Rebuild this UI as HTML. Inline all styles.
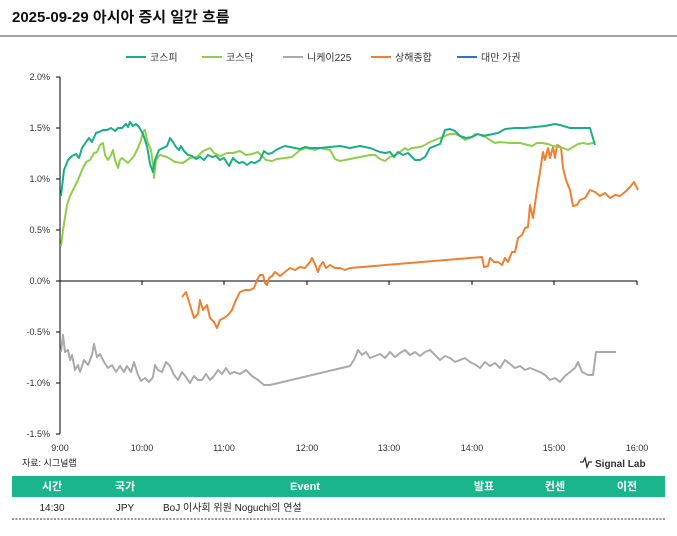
<!DOCTYPE html>
<html><head><meta charset="utf-8"><style>
body{margin:0;background:#fff;width:677px;height:531px;overflow:hidden;font-family:"Liberation Sans","Noto Sans CJK KR",sans-serif}
</style></head><body>
<svg width="677" height="531" xmlns="http://www.w3.org/2000/svg" font-family="Liberation Sans, Noto Sans CJK KR, sans-serif">
<text x="12" y="22" font-size="15" font-weight="bold" fill="#111">2025-09-29 아시아 증시 일간 흐름</text>
<line x1="0" y1="36" x2="677" y2="36" stroke="#444" stroke-width="1"/>
<g font-size="10" fill="#333">
<line x1="126" y1="57" x2="146" y2="57" stroke="#1aae88" stroke-width="2"/><text x="150" y="61">코스피</text>
<line x1="202" y1="57" x2="222" y2="57" stroke="#8ecf4a" stroke-width="2"/><text x="226" y="61">코스닥</text>
<line x1="283" y1="57" x2="303" y2="57" stroke="#aaaaaa" stroke-width="2"/><text x="307" y="61">니케이225</text>
<line x1="371" y1="57" x2="391" y2="57" stroke="#f08030" stroke-width="2"/><text x="395" y="61">상해종합</text>
<line x1="457" y1="57" x2="477" y2="57" stroke="#2e75c8" stroke-width="2"/><text x="481" y="61">대만 가권</text>
</g>
<g stroke="#000" stroke-width="1">
<line x1="60" y1="77" x2="60" y2="434"/>
<line x1="56" y1="77" x2="60" y2="77"/><line x1="56" y1="128" x2="60" y2="128"/><line x1="56" y1="179" x2="60" y2="179"/><line x1="56" y1="230" x2="60" y2="230"/><line x1="56" y1="281" x2="60" y2="281"/><line x1="56" y1="332" x2="60" y2="332"/><line x1="56" y1="383" x2="60" y2="383"/><line x1="56" y1="434" x2="60" y2="434"/>
<line x1="60" y1="281" x2="637" y2="281"/>
<line x1="142" y1="281" x2="142" y2="285"/><line x1="224" y1="281" x2="224" y2="285"/><line x1="307" y1="281" x2="307" y2="285"/><line x1="389" y1="281" x2="389" y2="285"/><line x1="472" y1="281" x2="472" y2="285"/><line x1="554" y1="281" x2="554" y2="285"/><line x1="637" y1="281" x2="637" y2="285"/>
</g>
<g font-size="9" fill="#333" text-anchor="end">
<text x="50" y="80">2.0%</text><text x="50" y="131">1.5%</text><text x="50" y="182">1.0%</text><text x="50" y="233">0.5%</text><text x="50" y="284">0.0%</text><text x="50" y="335">-0.5%</text><text x="50" y="386">-1.0%</text><text x="50" y="437">-1.5%</text>
</g>
<g font-size="9" fill="#333" text-anchor="middle">
<text x="60" y="451">9:00</text><text x="142" y="451">10:00</text><text x="224" y="451">11:00</text><text x="307" y="451">12:00</text><text x="389" y="451">13:00</text><text x="472" y="451">14:00</text><text x="554" y="451">15:00</text><text x="637" y="451">16:00</text>
</g>
<g fill="none" stroke-width="2" stroke-linejoin="round">
<polyline stroke="#aaaaaa" points="61,352 63,335 65,352 68,350 70,360 72,355 75,370 78,365 80,372 84,360 88,365 92,355 94,344 97,357 100,354 104,362 108,368 112,365 116,372 120,366 124,372 127,366 131,372 134,362 138,375 141,381 145,378 149,382 153,377 155,365 158,370 162,372 166,362 170,366 174,375 178,380 182,372 186,377 190,383 194,376 198,380 202,380 206,374 210,380 214,376 218,370 222,374 226,368 230,374 234,372 240,374 246,370 252,376 258,380 264,385 270,385 350,366 355,358 358,350 362,355 366,352 370,358 375,356 380,354 385,358 390,352 395,357 400,353 405,350 410,355 415,352 420,356 425,352 430,350 435,355 440,360 445,356 450,358 455,362 460,360 465,358 470,362 476,365 480,368 485,362 490,366 495,363 500,368 505,360 510,364 515,368 520,366 525,370 530,368 535,370 540,372 545,375 550,380 555,378 560,382 565,376 570,372 575,368 578,362 582,372 588,375 593,375 596,352 616,352"/>
<polyline stroke="#f08030" points="182,297 186,292 190,305 194,318 198,314 200,300 203,310 207,305 210,318 214,322 217,328 220,320 224,318 228,315 232,310 235,302 240,292 245,290 250,290 254,288 257,280 260,275 263,275 265,283 267,285 269,278 272,276 275,272 280,276 285,272 290,268 295,270 300,267 305,268 310,262 312,258 315,264 318,272 320,266 323,262 326,268 330,265 335,268 340,268 345,270 350,268 482,257 484,267 488,266 490,258 494,262 498,262 502,265 505,258 508,262 512,252 515,252 518,238 522,235 525,228 528,227 530,205 533,218 537,190 540,172 543,152 545,160 548,148 550,158 553,147 555,158 557,145 561,147 563,168 566,180 570,190 573,206 577,205 580,200 585,198 590,190 595,192 600,196 605,193 610,198 615,195 620,196 625,192 630,187 634,182 638,190"/>
<polyline stroke="#8ecf4a" points="61,246 63,230 67,205 70,196 74,188 78,180 82,170 86,162 90,160 94,153 97,152 100,145 103,143 105,155 108,160 111,155 113,150 115,160 118,168 120,160 122,158 128,163 134,156 138,148 141,140 143,132 145,130 147,140 151,150 153,165 154,178 156,160 160,155 167,157 175,162 183,163 190,158 197,157 203,151 210,148 214,153 220,156 227,153 233,153 240,151 246,155 252,154 258,152 266,160 272,161 277,159 285,158 292,157 300,150 306,148 315,150 320,148 330,150 335,159 340,161 345,160 350,159 355,158 365,156 370,155 375,155 380,159 385,161 390,157 395,155 400,152 405,148 408,150 412,148 420,147 425,145 430,142 435,140 440,138 445,136 450,134 455,134 460,136 465,140 470,138 475,134 483,135 490,140 495,143 500,142 510,143 520,143 528,145 532,146 537,143 542,143 548,144 553,146 558,147 563,148 568,150 573,147 578,144 583,143 588,144 593,143 595,141"/>
<polyline stroke="#1aae88" points="61,196 64,170 68,160 72,156 76,154 79,158 82,148 86,142 89,138 92,142 96,133 99,132 103,130 107,130 111,128 115,131 118,128 122,128 126,124 128,127 130,122 133,126 136,124 139,127 143,134 147,146 150,164 153,172 155,160 159,150 163,148 167,146 170,138 173,142 176,147 179,150 181,146 184,151 188,155 192,156 196,159 200,157 204,160 208,155 212,157 216,156 220,160 224,158 229,166 233,158 236,161 239,163 243,162 247,165 251,162 255,163 260,160 264,151 268,154 272,153 276,150 280,148 285,146 290,147 295,148 300,149 305,147 310,148 320,148 330,147 340,146 350,148 360,146 370,148 375,150 380,152 385,153 390,152 394,157 398,152 403,155 408,153 412,157 415,160 420,160 425,157 430,148 435,146 440,144 445,130 450,129 455,131 460,136 466,138 472,137 478,134 483,136 488,135 493,134 498,133 505,129 515,128 525,128 535,127 545,126 555,124 560,125 570,128 590,128 595,145"/>
</g>
<text x="22" y="466" font-size="9" fill="#222">자료: 시그널랩</text>
<polyline points="580,462 583,462 585,458 587,467 589,462 592,462" fill="none" stroke="#333" stroke-width="1.3"/>
<text x="595" y="467" font-size="10" font-weight="bold" fill="#333">Signal Lab</text>
<rect x="12" y="476" width="653" height="21" fill="#1bb58a"/>
<g font-size="11" font-weight="bold" fill="#fff" text-anchor="middle">
<text x="52" y="490">시간</text><text x="125" y="490">국가</text><text x="305" y="490">Event</text><text x="484" y="490">발표</text><text x="555" y="490">컨센</text><text x="627" y="490">이전</text>
</g>
<g font-size="10" fill="#222">
<text x="52" y="511" text-anchor="middle">14:30</text><text x="125" y="511" text-anchor="middle">JPY</text><text x="163" y="511">BoJ 이사회 위원 Noguchi의 연설</text>
</g>
<line x1="12" y1="519" x2="665" y2="519" stroke="#333" stroke-width="1" stroke-dasharray="2,1.5"/>
</svg>
</body></html>
